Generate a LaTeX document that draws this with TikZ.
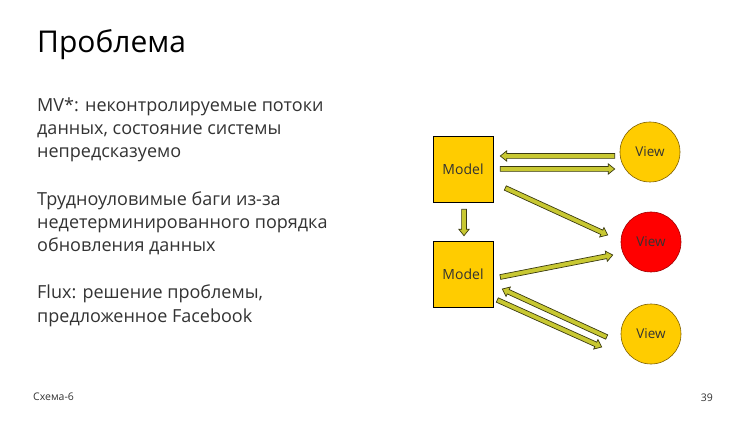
\documentclass[tikz,border=0pt]{standalone}
\usepackage{fontspec}
\setmainfont{Open Sans}
\usetikzlibrary{calc}
\definecolor{boxyellow}{HTML}{FFCC00}
\definecolor{viewline}{HTML}{7F6000}
\definecolor{redfill}{HTML}{FF0000}
\definecolor{redline}{HTML}{A00000}
\definecolor{arrfillc}{HTML}{C8C832}
\definecolor{arrlinec}{HTML}{3A3A10}
\definecolor{bodytext}{HTML}{333333}
\newcommand\blockarr[2]{%
  \filldraw[fill=arrfillc,draw=arrlinec,line width=0.7pt,line join=miter]
    ($(#1)!2.4pt!90:(#2)$) --
    ($($(#2)!6.5pt!(#1)$)!2.4pt!90:(#2)$) --
    ($($(#2)!6.5pt!(#1)$)!5.2pt!90:(#2)$) --
    (#2) --
    ($($(#2)!6.5pt!(#1)$)!5.2pt!-90:(#2)$) --
    ($($(#2)!6.5pt!(#1)$)!2.4pt!-90:(#2)$) --
    ($(#1)!2.4pt!-90:(#2)$) -- cycle;}
\begin{document}
\begin{tikzpicture}[x=1pt,y=-1pt,
  modelbox/.style={draw=black,line width=0.6pt,fill=boxyellow,minimum width=60pt,minimum height=66pt,inner sep=0pt,font=\fontsize{14}{16}\selectfont,text=bodytext},
  viewcirc/.style={circle,draw=viewline,line width=0.6pt,fill=boxyellow,minimum size=60pt,inner sep=0pt,font=\fontsize{13.5}{16}\selectfont,text=bodytext},
  bodypar/.style={anchor=base west,align=left,inner sep=0pt,text=bodytext,font=\fontsize{18}{23.3}\selectfont},
  foot/.style={anchor=base west,inner sep=0pt,text=bodytext,font=\fontsize{10.5}{13}\selectfont}]
\useasboundingbox[fill=white] (0,0) rectangle (750,422);
% text
\node[anchor=base west,inner sep=0pt,text=black,font=\fontsize{30}{34}\selectfont] (title) at (37,53) {Проблема};
\node[bodypar] (p1) at (37,158) {MV*: неконтролируемые потоки\\данных, состояние системы\\непредсказуемо};
\node[bodypar] (p2) at (37,252) {Трудноуловимые баги из-за\\недетерминированного порядка\\обновления данных};
\node[bodypar] (p3) at (37,322) {Flux: решение проблемы,\\предложенное Facebook};
\node[foot] (f1) at (33,400) {Схема-6};
\node[foot,anchor=base east] (f2) at (713,401) {39};
% diagram nodes
\node[modelbox] (m1) at (463,169) {Model};
\node[modelbox] (m2) at (463,274) {Model};
\node[viewcirc] (v1) at (650,152) {View};
\node[viewcirc,fill=redfill,draw=redline] (v2) at (651,242) {View};
\node[viewcirc] (v3) at (651,334) {View};
% arrow end points
\coordinate (a1s) at ($(v1.west)+(-5,4)$);
\coordinate (a1e) at ($(m1.east)+(7,-13)$);
\coordinate (a2s) at ($(m1.east)+(7,0)$);
\coordinate (a2e) at ($(v1.west)+(-5,17)$);
\coordinate (a3s) at ($(m1.east)+(12,19)$);
\coordinate (a3e) at ($(v2.west)+(-13,-7)$);
\coordinate (a4s) at ($(m1.south)+(1,7)$);
\coordinate (a4e) at ($(m2.north)+(1,-5)$);
\coordinate (a5s) at ($(m2.east)+(7,3)$);
\coordinate (a5e) at ($(v2.west)+(-8,13)$);
\coordinate (a6s) at ($(v3.west)+(-14,3)$);
\coordinate (a6e) at ($(m2.east)+(9,15)$);
\coordinate (a7s) at ($(m2.east)+(4,26)$);
\coordinate (a7e) at ($(v3.west)+(-19,13)$);
\blockarr{a1s}{a1e}
\blockarr{a2s}{a2e}
\blockarr{a3s}{a3e}
\blockarr{a4s}{a4e}
\blockarr{a5s}{a5e}
\blockarr{a6s}{a6e}
\blockarr{a7s}{a7e}
\end{tikzpicture}
\end{document}
